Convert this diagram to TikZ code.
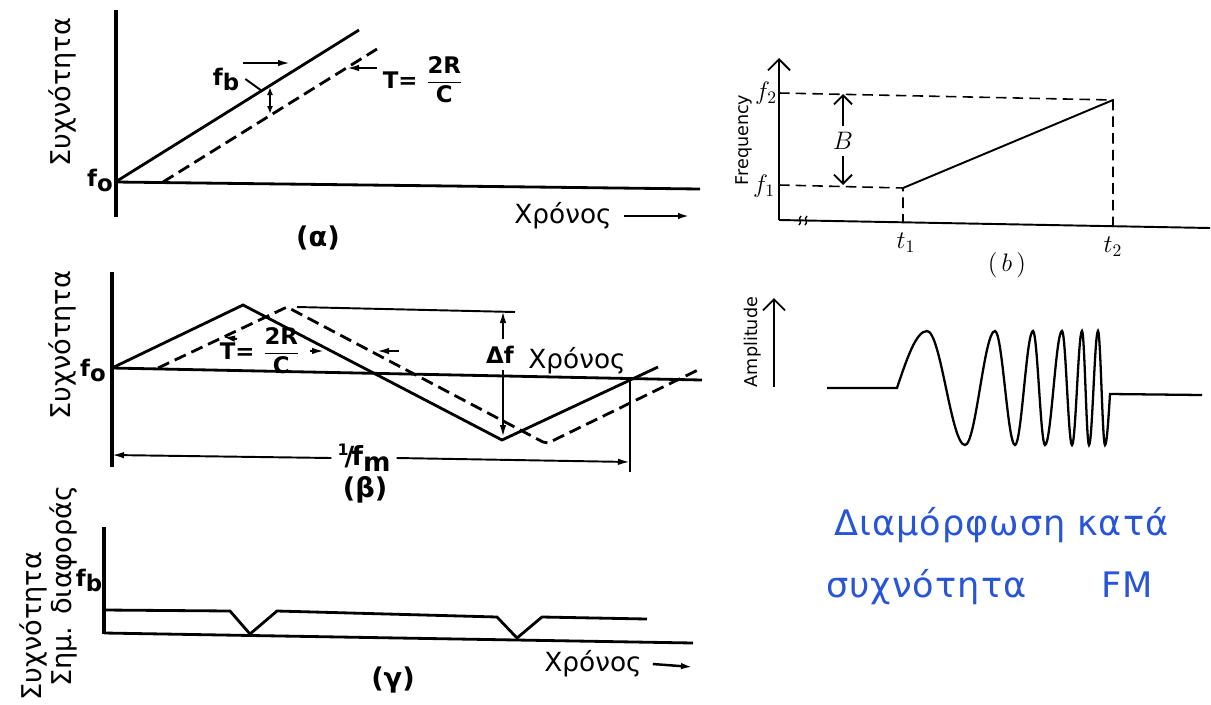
\documentclass[tikz,border=0pt]{standalone}
\usepackage{amsmath}
\usepackage{fontspec}
\setmainfont{DejaVu Sans}
\newfontfamily\handfont[LetterSpace=3]{DejaVu Sans}
\usepackage{tikz}
\usetikzlibrary{arrows.meta}
\definecolor{handblue}{RGB}{40,85,215}

\begin{document}
\begin{tikzpicture}[x=0.02cm, y=-0.02cm,
  axis/.style={line width=2.1pt},
  trace/.style={line width=1.6pt},
  dtrace/.style={line width=1.6pt, dash pattern=on 7pt off 3.5pt},
  thinline/.style={line width=1.1pt},
  dim/.style={line width=1.1pt, -{Latex[length=2.4mm,width=1.3mm]}},
  lbl/.style={font=\fontsize{15}{18}\selectfont},
  blbl/.style={font=\fontsize{13}{16}\selectfont\bfseries},
  caption/.style={font=\fontsize{15.5}{18}\selectfont\bfseries},
  ylbl/.style={font=\fontsize{15.5}{18}\selectfont, rotate=90},
  saxis/.style={line width=1.1pt},
  sdash/.style={line width=0.9pt, dash pattern=on 6pt off 3.5pt},
  slbl/.style={font=\fontsize{14}{16}\selectfont},
  rlbl/.style={font=\fontsize{10}{12}\selectfont, rotate=90},
  hand/.style={text=handblue, font=\fontsize{20}{24}\handfont, anchor=base west}
]
\useasboundingbox (0,0) rectangle (1211,704);

% (a) linear sweep
\draw[axis] (116,10) -- (116,217);
\draw[trace] (116,182) -- (700,189);
\draw[trace] (117,181) -- (359,30);
\draw[dtrace] (163,182) -- (377,49);
\node[ylbl] (freq_a) at (62,92) {Συχνότητα};
\node[blbl] (fo_a) at (100,180) {f\raisebox{-.4ex}{o}};
\node[blbl] (fb_a) at (226,79) {f\raisebox{-.4ex}{b}};
\coordinate (fb_tail) at (243,63);
\coordinate (fb_tip) at (290,63);
\draw[dim] (fb_tail) -- (fb_tip);
\draw[thinline] (fb_a.east) -- (262,91);
\draw[thinline, {Latex[length=1.6mm,width=1.2mm]}-{Latex[length=1.6mm,width=1.2mm]}] (270,87) -- (270,114);
\node[blbl] (T_a) at (423,80) {T= $\dfrac{\textbf{2R}}{\textbf{C}}$};
\coordinate (T_a_tip) at (347,68);
\draw[dim] (T_a.west |- T_a_tip) -- (T_a_tip);
\node[lbl] (time_a) at (563,216) {Χρόνος};
\coordinate (time_a_end) at (690,216);
\draw[dim, line width=1.4pt] (time_a.east) ++(6,0) -- (time_a_end);
\node[caption] (cap_a) at (318,238) {(α)};

% (b) triangular sweep
\draw[axis] (112,272) -- (112,467);
\draw[trace] (112,368) -- (702,380);
\draw[trace] (112,368) -- (243,305) -- (502,440) -- (658,367);
\draw[dtrace] (158,368) -- (287,307) -- (543,442) -- (548,443) -- (702,368);
\draw[thinline] (297,307) -- (515,312);
\node[ylbl] (freq_b) at (62,345) {Συχνότητα};
\node[blbl] (fo_b) at (93,370) {f\raisebox{-.4ex}{o}};
\node[blbl] (df) at (500,355) {Δf};
\coordinate (df_top) at (503,311);
\coordinate (df_bot) at (503,437);
\draw[dim] (503,339) -- (df_top);
\draw[dim] (503,370) -- (df_bot);
\node[lbl] (time_b) at (577,361) {Χρόνος};
\node[blbl] (T_b) at (260,351) {T= $\dfrac{\textbf{2R}}{\textbf{C}}$};
\coordinate (T_b_l) at (223,337);
\coordinate (T_b_r) at (324,351);
\coordinate (T_b_d) at (377,351);
\draw[dim] (237,339) -- (T_b_l);
\draw[dim] (T_b.east) ++(4,0) -- (T_b_r);
\draw[dim] (399,351) -- (T_b_d);
\draw[trace] (630,378) -- (630,472);
\node[blbl, font=\fontsize{15}{18}\selectfont\bfseries] (fm) at (364,458) {\raisebox{.7ex}{\small 1}\kern-.15em/\kern-.1em f\raisebox{-.4ex}{m}};
\coordinate (fm_l) at (112,455);
\coordinate (fm_r) at (630,462);
\draw[dim] (fm.west) -- (fm_l);
\draw[dim] (fm.east) -- (fm_r);
\node[caption] (cap_b) at (365,490) {(β)};

% (c) beat frequency
\draw[axis] (104,527) -- (104,634);
\draw[trace] (104,633) -- (693,643);
\draw[trace] (104,610) -- (230,611) -- (250,634) -- (277,611) -- (497,617)
  -- (517,638) -- (542,617) -- (647,619);
\node[ylbl] (freq_c) at (33,626) {Συχνότητα};
\node[ylbl] (beat_c) at (63,586) {Σημ. διαφοράς};
\node[blbl] (fb_c) at (89,580) {f\raisebox{-.4ex}{b}};
\node[lbl] (time_c) at (593,664) {Χρόνος};
\coordinate (time_c_end) at (693,667);
\draw[dim, line width=1.4pt] (time_c.east) ++(5,0) -- (time_c_end);
\node[caption] (cap_c) at (393,680) {(γ)};

% chirp frequency vs time
\draw[saxis, -{Straight Barb[length=2.2mm]}] (779,220) -- (779,58);
\draw[saxis] (779,220) -- (1210,228);
\draw[line width=0.8pt] (799,225) .. controls (803,222) and (797,219) .. (801,216);
\draw[line width=0.8pt] (805,225) .. controls (809,222) and (803,219) .. (807,216);
\draw[sdash] (779,93) -- (1113,100) -- (1113,228);
\draw[sdash] (779,185) -- (903,188) -- (903,222);
\draw[saxis] (903,188) -- (1113,100);
\node[slbl] (B) at (843,141) {$B$};
\draw[thinline, -{Straight Barb[length=1.8mm]}] (B.north) -- (843,94);
\draw[thinline, -{Straight Barb[length=1.8mm]}] (B.south) -- (843,185);
\node[rlbl] (freq_r) at (744,140) {Frequency};
\node[slbl] (f2) at (766,93) {$f_2$};
\node[slbl] (f1) at (764,186) {$f_1$};
\node[slbl] (t1) at (906,243) {$t_1$};
\node[slbl] (t2) at (1113,247) {$t_2$};
\node[slbl] (cap_r) at (1007,265) {$(\,b\,)$};

% chirp waveform
\node[rlbl] (ampl) at (753,342) {Amplitude};
\draw[saxis, -{Straight Barb[length=2.2mm]}] (774,387) -- (774,298);
\draw[line width=1.3pt] (827,388) -- (897,388)
  \foreach \e/\v/\z in {927/331/946, 965/445/980, 995/331/1005, 1015/445/1024,
    1033/331/1039, 1045/445/1053.5, 1062/331/1067, 1072/445/1077,
    1082/331/1085.5, 1089/445/1093.5, 1098/331/1101.5} { sin (\e,\v) cos (\z,388) }
  sin (1105,445) cos (1110,394) -- (1202,395);

% handwritten note
\node[hand] (note1a) at (828,535) {Διαμόρφωση};
\node[hand] (note1b) at (1071,535) {κατά};
\node[hand] (note2a) at (820,597) {συχνότητα};
\node[hand] (note2b) at (1095,597) {FM};
\end{tikzpicture}
\end{document}
